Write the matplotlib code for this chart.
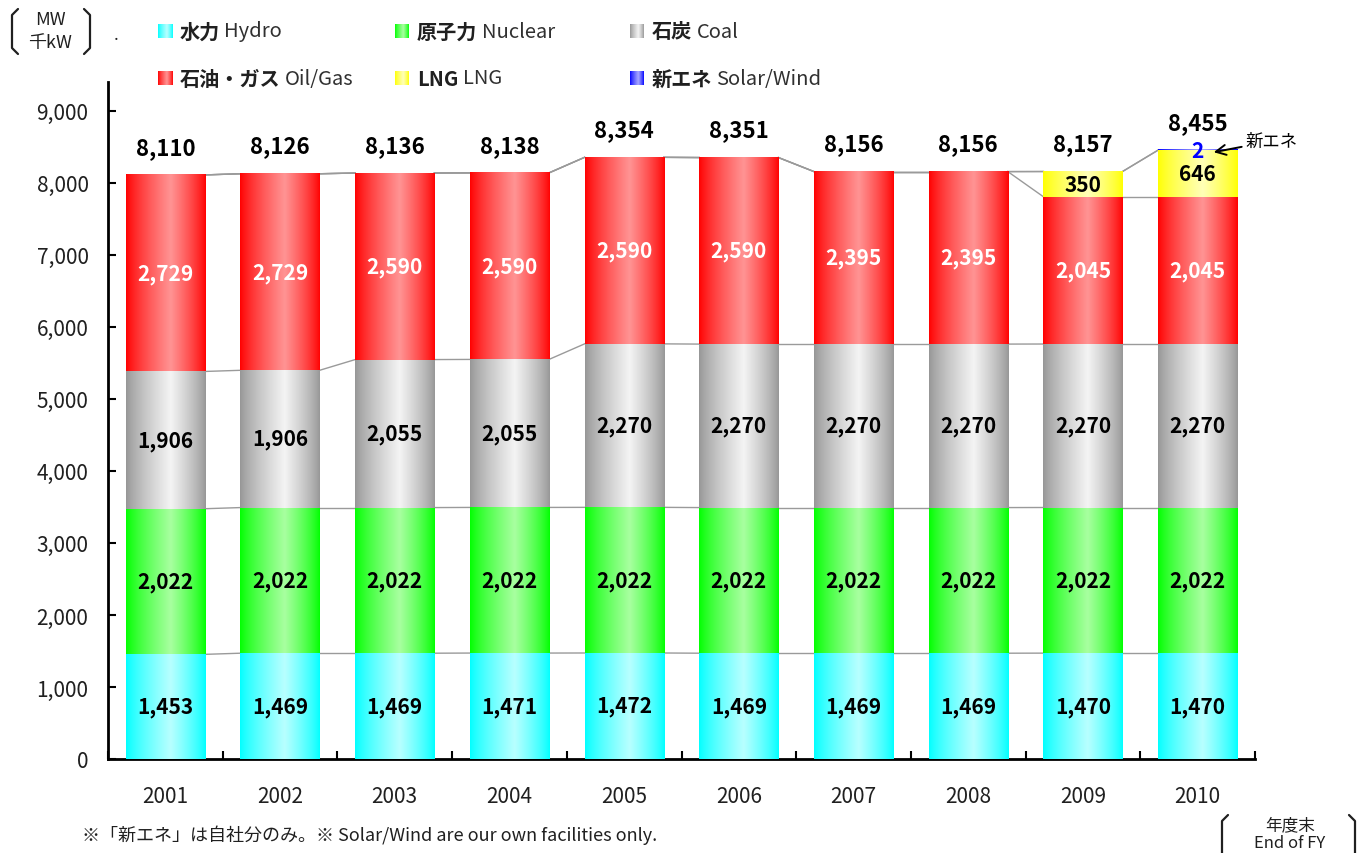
"""Installed capacity by source, stacked bars with gradient fills."""

import matplotlib

matplotlib.use("Agg")
import matplotlib.pyplot as plt
import numpy as np
from matplotlib.lines import Line2D

plt.rcParams["font.family"] = ["Noto Sans CJK JP", "DejaVu Sans"]

years = ["2001", "2002", "2003", "2004", "2005", "2006", "2007", "2008", "2009", "2010"]
hydro = [1453, 1469, 1469, 1471, 1472, 1469, 1469, 1469, 1470, 1470]
nuclear = [2022, 2022, 2022, 2022, 2022, 2022, 2022, 2022, 2022, 2022]
coal = [1906, 1906, 2055, 2055, 2270, 2270, 2270, 2270, 2270, 2270]
oil_gas = [2729, 2729, 2590, 2590, 2590, 2590, 2395, 2395, 2045, 2045]
lng = [0, 0, 0, 0, 0, 0, 0, 0, 350, 646]
solar_wind = [0, 0, 0, 0, 0, 0, 0, 0, 0, 2]

series_jp = ["水力", "原子力", "石炭", "石油・ガス", "LNG", "新エネ"]
series_en = ["Hydro", "Nuclear", "Coal", "Oil/Gas", "LNG", "Solar/Wind"]
series_values = [hydro, nuclear, coal, oil_gas, lng, solar_wind]

# (edge colour, centre colour, label colour)
styles = [
    ("#00ffff", "#b8ffff", "black"),
    ("#00ff00", "#a8ffa0", "black"),
    ("#969696", "#f4f4f4", "black"),
    ("#ff0000", "#ff9494", "white"),
    ("#ffff00", "#ffffb8", "black"),
    ("#0000ff", "#a8a8ff", "blue"),
]

W, H = 1371, 854


def gradient_row(edge, centre, n=200, peak=0.56):
    e = np.array(matplotlib.colors.to_rgb(edge))
    c = np.array(matplotlib.colors.to_rgb(centre))
    t = np.linspace(0, 1, n)
    w = np.where(t < peak, t / peak, (1 - t) / (1 - peak))
    w = np.clip(w, 0, 1) ** 0.8
    row = e[None, :] * (1 - w[:, None]) + c[None, :] * w[:, None]
    return row[None, :, :]


def fx(px):
    return px / W


def fy(py):
    return 1 - py / H


def bracket(fig, x, y0, y1, side):
    d = 6 if side == "left" else -6
    xs = [x + d, x, x, x + d]
    ys = [y0, y0 + 6, y1 - 6, y1]
    fig.add_artist(Line2D([fx(v) for v in xs], [fy(v) for v in ys], color="#202020", linewidth=1.6,
                          solid_joinstyle="round", solid_capstyle="round"))


fig = plt.figure(figsize=(W / 100, H / 100), dpi=100)
ax = fig.add_axes([fx(108), fy(760), fx(1255) - fx(108), fy(83) - fy(760)])

x = np.arange(len(years))
width = 0.69
bottoms = np.zeros(len(years))
tops = []
for values, (edge, centre, label_color) in zip(series_values, styles):
    vals = np.array(values, dtype=float)
    bars = ax.bar(x, vals, width, bottom=bottoms, facecolor="none", edgecolor="none", zorder=3)
    grad = gradient_row(edge, centre)
    for rect, v in zip(bars, vals):
        if v <= 0:
            continue
        x0, y0 = rect.get_x(), rect.get_y()
        ax.imshow(grad, extent=[x0, x0 + rect.get_width(), y0, y0 + rect.get_height()],
                  aspect="auto", interpolation="bilinear", zorder=3)
    bottoms = bottoms + vals
    tops.append(bottoms.copy())
    for xi, b, v in zip(x, bottoms - vals, vals):
        if v <= 0:
            continue
        if label_color == "blue":
            ax.text(xi, b + v, f"{v:,.0f}", ha="center", va="center", color="blue",
                    fontsize=15, fontweight="bold", zorder=5)
        else:
            ax.text(xi, b + v / 2, f"{v:,.0f}", ha="center", va="center", color=label_color,
                    fontsize=15, fontweight="bold", zorder=5)

# connecting lines between cumulative tops
for level in tops:
    for i in range(len(years) - 1):
        ax.plot([x[i] + width / 2, x[i + 1] - width / 2], [level[i], level[i + 1]],
                color="#9a9a9a", linewidth=1.0, zorder=2)

totals = bottoms
for xi, t in zip(x, totals):
    ax.annotate(f"{t:,.0f}", (xi, t), xytext=(0, 20), textcoords="offset points",
                ha="center", va="center", fontsize=16, fontweight="bold", zorder=5)

ax.annotate("新エネ", xy=(x[-1] + 0.14, totals[-1] - 30), xytext=(x[-1] + 0.42, totals[-1] + 125),
            fontsize=12.5, ha="left", va="center",
            arrowprops=dict(arrowstyle="->", color="black", lw=1.4, shrinkA=1, shrinkB=0,
                            mutation_scale=18))

ax.set_xlim(-0.5, len(years) - 0.5)
ax.set_ylim(0, 9400)
ax.set_yticks(np.arange(0, 9001, 1000))
ax.set_yticklabels([f"{v:,}" for v in range(0, 9001, 1000)])
ax.set_xticks(x)
ax.set_xticklabels(years)
ax.set_xticks(np.arange(-0.5, len(years), 1.0), minor=True)
ax.tick_params(axis="x", which="major", length=0, pad=19, labelsize=15, labelcolor="#202020")
ax.tick_params(axis="x", which="minor", direction="in", length=6, width=1.5)
ax.tick_params(axis="y", direction="in", length=6, width=1.5, pad=14, labelsize=15, labelcolor="#202020")
for side in ("top", "right"):
    ax.spines[side].set_visible(False)
for side in ("left", "bottom"):
    ax.spines[side].set_linewidth(2)

# unit box
fig.text(fx(50), fy(20), "MW", ha="center", va="center", fontsize=13, color="#202020")
fig.text(fx(50), fy(43), "千kW", ha="center", va="center", fontsize=13, color="#202020")
bracket(fig, 12, 10, 55, "left")
bracket(fig, 90, 10, 55, "right")
fig.text(fx(116), fy(36), ".", ha="center", va="center", fontsize=12, color="#202020")

# legend
legend_pos = [(158, 32), (395, 32), (630, 32), (158, 79), (395, 79), (630, 79)]
for (px, py), jp, en, (edge, centre, _) in zip(legend_pos, series_jp, series_en, styles):
    sq = fig.add_axes([fx(px), fy(py + 7), fx(14), 14 / H])
    sq.imshow(gradient_row(edge, centre, peak=0.6), aspect="auto", interpolation="bilinear")
    sq.set_axis_off()
    t = fig.text(fx(px + 22), fy(py), jp, ha="left", va="center", fontsize=14.5,
                 fontweight="bold", color="#202020")
    ax.annotate(en, xy=(1, 0.5), xycoords=t, xytext=(3, 0), textcoords="offset points",
                ha="left", va="center", fontsize=14.5, color="#303030", annotation_clip=False)

# footnote and x unit
fig.text(fx(82), fy(835), "※「新エネ」は自社分のみ。※ Solar/Wind are our own facilities only.",
         ha="left", va="center", fontsize=13, color="#202020")
fig.text(fx(1290), fy(826), "年度末", ha="center", va="center", fontsize=12, color="#202020")
fig.text(fx(1290), fy(844), "End of FY", ha="center", va="center", fontsize=12, color="#202020")
bracket(fig, 1222, 816, 866, "left")
bracket(fig, 1355, 816, 866, "right")

fig.savefig("out.png", dpi=100, facecolor="white")
